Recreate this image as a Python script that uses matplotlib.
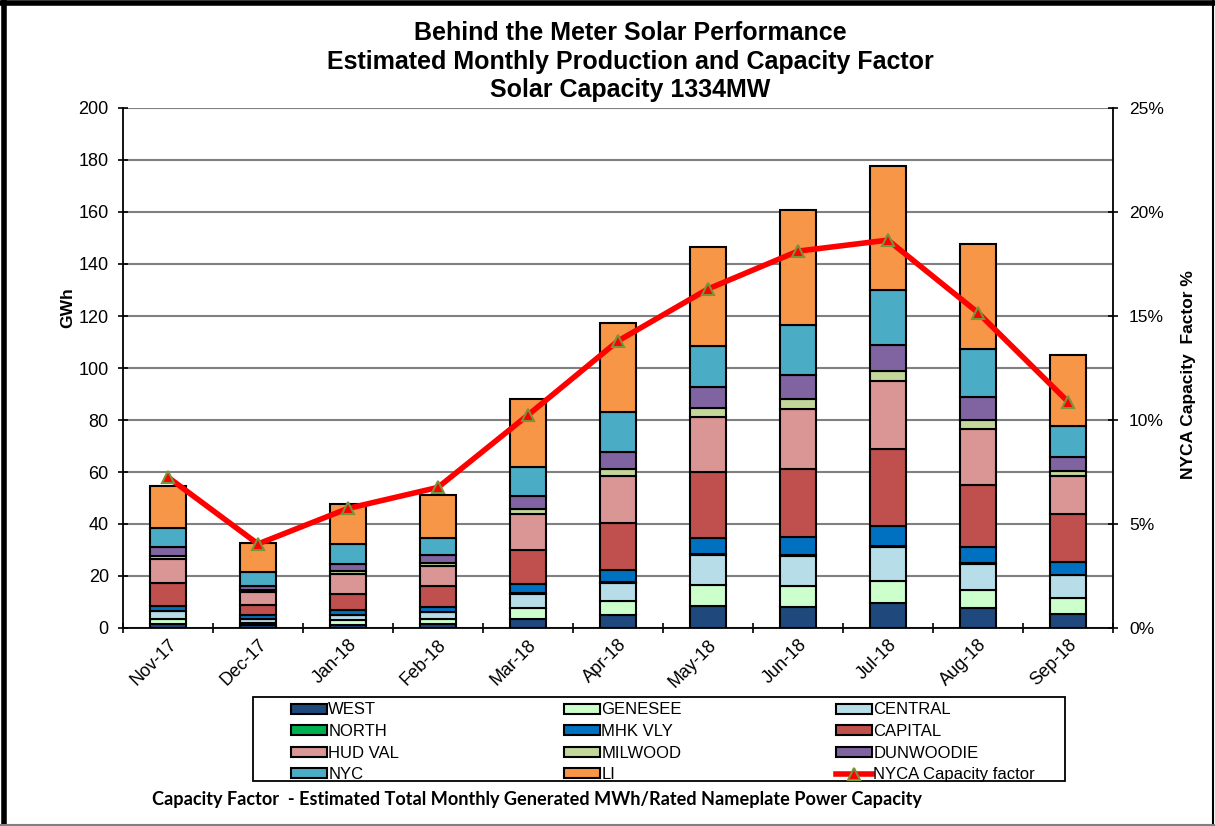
import matplotlib
matplotlib.use("Agg")
import matplotlib.pyplot as plt
import numpy as np
from matplotlib.patches import Patch, Rectangle
from matplotlib.lines import Line2D
from matplotlib.ticker import FuncFormatter

months = ["Nov-17", "Dec-17", "Jan-18", "Feb-18", "Mar-18", "Apr-18",
          "May-18", "Jun-18", "Jul-18", "Aug-18", "Sep-18"]

west      = [1.7, 1.0, 1.0, 1.7, 3.6, 5.1, 8.5, 8.2, 9.7, 7.6, 5.3]
genesee   = [1.9, 1.0, 1.9, 1.9, 4.1, 5.1, 8.2, 8.1, 8.5, 7.1, 6.2]
central   = [2.9, 1.5, 2.1, 2.6, 5.5, 7.3, 11.3, 11.5, 12.8, 9.9, 8.7]
north     = [0.2, 0.1, 0.1, 0.1, 0.2, 0.3, 0.4, 0.4, 0.4, 0.3, 0.2]
mhk_vly   = [1.8, 1.3, 1.7, 1.8, 3.4, 4.4, 6.4, 6.7, 7.9, 6.1, 4.9]
capital   = [9.0, 3.8, 6.2, 7.9, 13.3, 18.3, 25.3, 26.3, 29.7, 24.1, 18.6]
hud_val   = [9.0, 5.1, 7.6, 7.9, 13.6, 17.8, 21.2, 23.1, 25.9, 21.5, 14.4]
milwood   = [1.3, 1.0, 1.3, 1.0, 1.9, 2.8, 3.5, 3.8, 4.0, 3.5, 1.9]
dunwoodie = [3.2, 1.5, 2.6, 3.2, 5.0, 6.7, 7.8, 9.2, 9.9, 8.7, 5.5]
nyc       = [7.3, 5.1, 7.8, 6.5, 11.3, 15.1, 16.0, 19.2, 21.2, 18.5, 12.1]
li        = [16.4, 11.3, 15.5, 16.7, 26.0, 34.6, 38.0, 44.4, 47.8, 40.5, 27.3]

capacity_factor = [7.25, 4.04, 5.75, 6.76, 10.24, 13.8, 16.3, 18.12, 18.65, 15.16, 10.88]

zone_names = ["WEST", "GENESEE", "CENTRAL", "NORTH", "MHK VLY", "CAPITAL",
              "HUD VAL", "MILWOOD", "DUNWOODIE", "NYC", "LI"]
zone_values = [west, genesee, central, north, mhk_vly, capital,
               hud_val, milwood, dunwoodie, nyc, li]
zone_colors = ["#1F497D", "#CCFFCC", "#B7DEE8", "#00B050", "#0070C0", "#C0504D",
               "#DA9694", "#C4D79B", "#8064A2", "#4BACC6", "#F79646"]

plt.rcParams['font.family'] = ['Liberation Sans', 'DejaVu Sans']

W, H = 1215, 826
fig = plt.figure(figsize=(W/100, H/100), dpi=100)
ax = fig.add_axes([123/W, 1-628/H, (1113-123)/W, (628-108)/H])

x = np.arange(len(months))
bottom = np.zeros(len(months))
for name, vals, col in zip(zone_names, zone_values, zone_colors):
    v = np.array(vals)
    ax.bar(x, v, 0.41, bottom=bottom, color=col, edgecolor='black',
           linewidth=1.5, zorder=3)
    bottom += v

ax.set_xlim(-0.5, len(months) - 0.5)
ax.set_ylim(0, 200)
ax.set_yticks(np.arange(0, 201, 20))
ax.yaxis.grid(True, color='#808080', linewidth=1.5, zorder=0)
ax.set_axisbelow(True)
ax.set_xticks(np.arange(-0.5, len(months), 1), minor=False)
ax.set_xticklabels([])
ax.set_xticks(x, minor=True)
ax.set_xticklabels(months, minor=True, rotation=45, ha='right',
                   rotation_mode='anchor', fontsize=13)
ax.tick_params(axis='x', which='minor', length=0, pad=6)
ax.tick_params(axis='x', which='major', direction='inout', length=6.5, width=1.2)
ax.tick_params(axis='y', direction='inout', length=6.5, width=1.2, labelsize=13, pad=7)
ax.spines['top'].set_visible(False)
ax.spines['right'].set_visible(False)
for s in ['left', 'bottom']:
    ax.spines[s].set_linewidth(1.3)
ax.set_ylabel("GWh", fontsize=12.5, fontweight='bold')
ax.yaxis.set_label_coords((75-123)/990, (628-308)/520)

ax2 = ax.twinx()
ax2.set_ylim(0, 25)
ax2.set_yticks(np.arange(0, 26, 5))
ax2.yaxis.set_major_formatter(FuncFormatter(lambda v, p: f"{int(v)}%"))
ax2.plot(x, capacity_factor, color='#FF0000', linewidth=4, marker='^',
         markersize=9, markerfacecolor='#FF0000', markeredgecolor='#77933C',
         markeredgewidth=1.5, zorder=5)
ax2.tick_params(axis='y', direction='inout', length=6.5, width=1.2, labelsize=12.5, pad=8.3)
ax2.spines['top'].set_visible(False)
ax2.spines['left'].set_visible(False)
ax2.spines['bottom'].set_visible(False)
ax2.spines['right'].set_linewidth(1.3)
ax2.set_ylabel("NYCA Capacity  Factor %", fontsize=12.5, fontweight='bold')
ax2.yaxis.set_label_coords((1181-123)/990, (628-375)/520)

# Titles
title_lines = ["Behind the Meter Solar Performance",
               "Estimated Monthly Production and Capacity Factor",
               "Solar Capacity 1334MW"]
for i, t in enumerate(title_lines):
    fig.text(630/W, 1 - (33 + 28.5*i)/H, t, ha='center', va='center',
             fontsize=18, fontweight='bold')

# Legend
handles = [Patch(facecolor=c, edgecolor='black', linewidth=1.5) for c in zone_colors]
handles.append(Line2D([0], [0], color='#FF0000', linewidth=4, marker='^', markersize=9,
                      markerfacecolor='#FF0000', markeredgecolor='#77933C',
                      markeredgewidth=1.5))
labels = zone_names + ["NYCA Capacity factor"]
columns = [[0, 3, 6, 9], [1, 4, 7, 10], [2, 5, 8, 11]]
col_x = [291, 564, 836]
for cx, idxs in zip(col_x, columns):
    lg = fig.legend([handles[i] for i in idxs], [labels[i] for i in idxs],
                    loc='upper left', bbox_to_anchor=(cx/W, 1-702.5/H),
                    fontsize=12, frameon=False, handlelength=2.16,
                    handleheight=0.55, handletextpad=0.08, labelspacing=0.39,
                    borderpad=0, borderaxespad=0)
fig.add_artist(Rectangle((253/W, 1-781/H), 812/W, 84/H, fill=False,
                         edgecolor='black', linewidth=1.3, transform=fig.transFigure))

fig.text(152/W, 1-800/H,
         "Capacity Factor  - Estimated Total Monthly Generated MWh/Rated Nameplate Power Capacity",
         ha='left', va='center', fontsize=13.1, fontweight='bold', family=['Lato', 'DejaVu Sans'])

# Figure border
fig.add_artist(Line2D([4/W, 4/W], [0, 1], color='black', linewidth=4, transform=fig.transFigure))
fig.add_artist(Line2D([0, 1], [1-3/H, 1-3/H], color='black', linewidth=4, transform=fig.transFigure))
fig.add_artist(Line2D([1213/W, 1213/W], [0, 1], color='black', linewidth=1.5, transform=fig.transFigure))
fig.add_artist(Line2D([0, 1], [1/H, 1/H], color='#808080', linewidth=1.5, transform=fig.transFigure))

fig.savefig("out.png", dpi=100)
